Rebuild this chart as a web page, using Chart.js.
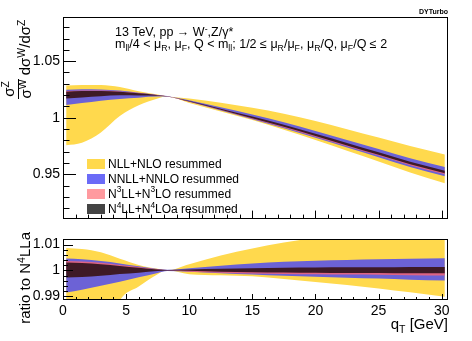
<!DOCTYPE html>
<html>
<head>
<meta charset="utf-8">
<script src="https://cdn.jsdelivr.net/npm/chart.js@4"></script>
<style>
  body { margin: 0; background: #fff; }
  #figura { position: relative; width: 472px; height: 341px; overflow: hidden;
            font-family: "Liberation Sans", Arial, sans-serif; color: #000; }
  #figura canvas { position: absolute; left: 0; }
  .txt { position: absolute; white-space: nowrap; line-height: 1; }
  .sub { font-size: 70%; position: relative; top: 0.35em; }
  .sup { font-size: 70%; position: relative; top: -0.5em; }
  .leg { position: absolute; left: 87px; height: 10px; display: flex; align-items: center;
         font-size: 12px; white-space: nowrap; line-height: 1; }
  .leg .box { width: 18px; height: 10px; margin-right: 3px; flex: none; }
  .rot { transform: rotate(-90deg); }
  .frac { display: flex; flex-direction: column; align-items: center; justify-content: center; font-size: 15px; }
  .frac > span { display: block; line-height: 14px; }
  .frac > span:first-child { border-bottom: 1px solid #000; padding: 0 2px 1px 2px; }
</style>
</head>
<body>
<div id="figura">
  <canvas id="grafico1" width="472" height="230" style="top:0px"></canvas>
  <canvas id="grafico2" width="472" height="113" style="top:228px"></canvas>

  <div class="txt" style="right:24px; top:8px; font-size:7px; font-weight:bold;">DYTurbo</div>

  <div class="txt" style="left:115px; top:26px; font-size:12.5px;">13 TeV, pp &rarr; W<span class="sup">-</span>,Z/&gamma;*</div>
  <div class="txt" style="left:115px; top:38px; font-size:12.5px;">m<span class="sub">ll</span>/4 &lt; &mu;<span class="sub">R</span>, &mu;<span class="sub">F</span>, Q &lt; m<span class="sub">ll</span>; 1/2 &le; &mu;<span class="sub">R</span>/&mu;<span class="sub">F</span>, &mu;<span class="sub">R</span>/Q, &mu;<span class="sub">F</span>/Q &le; 2</div>

  <div class="leg" style="top:159px"><span class="box" style="background:#ffd94d"></span>NLL+NLO resummed</div>
  <div class="leg" style="top:173.5px"><span class="box" style="background:#6b6bf7"></span>NNLL+NNLO resummed</div>
  <div class="leg" style="top:188.5px"><span class="box" style="background:#ff9a9f"></span>N<span class="sup">3</span>LL+N<span class="sup">3</span>LO resummed</div>
  <div class="leg" style="top:204px"><span class="box" style="background:#444444"></span>N<span class="sup">4</span>LL+N<span class="sup">4</span>LOa resummed</div>

  <!-- titulos dos eixos -->
  <div class="txt rot frac" style="left:5px; top:74px; width:26px; height:30px;">
    <span>&sigma;<span class="sup">Z</span></span><span>&sigma;<span class="sup">W</span></span>
  </div>
  <div class="txt rot" style="left:-3px; top:39px; width:56px; height:17px; font-size:15px; text-align:right;">d&sigma;<span class="sup">W</span>/d&sigma;<span class="sup">Z</span></div>
  <div class="txt rot" style="left:-23px; top:272px; width:96px; height:16px; font-size:15px; text-align:right;">ratio to N<span class="sup">4</span>LLa</div>
  <div class="txt" style="right:24px; top:316px; font-size:15px;">q<span class="sub">T</span> [GeV]</div>
</div>

<script>
// pontos em qT (GeV)
const qT = [0.25, 1.5, 3, 4.5, 6, 7.5, 8.25, 10, 12.5, 15, 17.5, 20, 22.5, 25, 27.5, 30.25];

// painel de cima: sigma^Z/sigma^W dsigma^W/dsigma^Z (limites das bandas)
const nllHi  = [1.0285, 1.0290, 1.0290, 1.0272, 1.0235, 1.0205, 1.0190, 1.0170, 1.0133, 1.0088, 1.0035, 0.9972, 0.9900, 0.9826, 0.9751, 0.9677];
const nllLo  = [0.9757, 0.9780, 0.9870, 1.0015, 1.0110, 1.0170, 1.0190, 1.0131, 1.0056, 0.9980, 0.9894, 0.9804, 0.9709, 0.9615, 0.9518, 0.9423];
const nnllHi = [1.0247, 1.0251, 1.0249, 1.0240, 1.0222, 1.0202, 1.0192, 1.0154, 1.0093, 1.0030, 0.9961, 0.9884, 0.9804, 0.9725, 0.9643, 0.9565];
const nnllLo = [1.0112, 1.0130, 1.0151, 1.0167, 1.0178, 1.0187, 1.0187, 1.0141, 1.0064, 0.9987, 0.9907, 0.9823, 0.9737, 0.9652, 0.9565, 0.9483];
const n3llHi = [1.0237, 1.0242, 1.0242, 1.0233, 1.0219, 1.0201, 1.0191, 1.0147, 1.0077, 1.0006, 0.9932, 0.9852, 0.9770, 0.9688, 0.9605, 0.9525];
const n3llLo = [1.0190, 1.0198, 1.0205, 1.0207, 1.0203, 1.0196, 1.0189, 1.0141, 1.0068, 0.9991, 0.9914, 0.9833, 0.9749, 0.9667, 0.9582, 0.9501];
const n4llHi = [1.0231, 1.0236, 1.0237, 1.0229, 1.0216, 1.0200, 1.0191, 1.0149, 1.0081, 1.0011, 0.9938, 0.9859, 0.9777, 0.9695, 0.9612, 0.9532];
const n4llLo = [1.0171, 1.0180, 1.0191, 1.0198, 1.0197, 1.0194, 1.0189, 1.0144, 1.0070, 0.9996, 0.9920, 0.9839, 0.9755, 0.9673, 0.9589, 0.9510];

// painel de baixo: razao para N4LLa
const rNllHi  = [1.0087, 1.0083, 1.0070, 1.0045, 1.0021, 1.0006, 1.0000, 1.0024, 1.0058, 1.0085, 1.0108, 1.0126, 1.0138, 1.0148, 1.0157, 1.0165];
const rNllLo  = [0.9566, 0.9600, 0.9700, 0.9883, 0.9937, 0.9985, 1.0000, 0.9985, 0.9981, 0.9977, 0.9966, 0.9955, 0.9943, 0.9930, 0.9915, 0.9898];
const rNnllHi = [1.0046, 1.0043, 1.0036, 1.0027, 1.0016, 1.0005, 1.0002, 1.0008, 1.0018, 1.0027, 1.0033, 1.0037, 1.0040, 1.0043, 1.0045, 1.0047];
const rNnllLo = [0.9914, 0.9925, 0.9940, 0.9956, 0.9973, 0.9990, 0.9997, 0.9995, 0.9989, 0.9984, 0.9979, 0.9975, 0.9971, 0.9968, 0.9964, 0.9961];
const rN3llHi = [1.0036, 1.0034, 1.0029, 1.0021, 1.0013, 1.0004, 1.0001, 1.0001, 1.0002, 1.0003, 1.0004, 1.0004, 1.0005, 1.0005, 1.0005, 1.0005];
const rN3llLo = [0.9990, 0.9991, 0.9993, 0.9995, 0.9997, 0.9999, 1.0000, 0.9995, 0.9991, 0.9988, 0.9986, 0.9985, 0.9984, 0.9983, 0.9981, 0.9980];
const rN4llHi = [1.0030, 1.0028, 1.0024, 1.0017, 1.0010, 1.0003, 1.0001, 1.0003, 1.0006, 1.0008, 1.0010, 1.0011, 1.0012, 1.0012, 1.0013, 1.0013];
const rN4llLo = [0.9972, 0.9974, 0.9979, 0.9986, 0.9991, 0.9997, 0.9999, 0.9998, 0.9995, 0.9993, 0.9992, 0.9991, 0.9990, 0.9990, 0.9989, 0.9989];

// ticks com rotulo
const xTicks = [0, 5, 10, 15, 20, 25, 30];
const yTicksTopo = [0.95, 1, 1.05];
const yTicksRazao = [0.99, 1, 1.01];

const corNll = '#ffd94d';
const corNnll = '#6c62d6';
const corN3ll = '#de6484';
const corN4ll = '#3e1a26';

// duas curvas (alto/baixo) com preenchimento entre elas
function banda(label, hi, lo, cor) {
    const linha = {
        pointRadius: 0,
        borderWidth: 0,
        cubicInterpolationMode: 'monotone'
    };
    return [
        Object.assign({ label: label, data: qT.map((x, i) => ({ x: x, y: hi[i] })), fill: '+1', backgroundColor: cor, borderColor: cor }, linha),
        Object.assign({ label: label + ' lo', data: qT.map((x, i) => ({ x: x, y: lo[i] })), fill: false, borderColor: cor }, linha)
    ];
}

// moldura estilo ROOT com ticks para dentro
const molduraRoot = {
    id: 'molduraRoot',
    afterDraw(chart, args, o) {
        const ctx = chart.ctx;
        const a = chart.chartArea;
        const sx = chart.scales.x;
        const sy = chart.scales.y;
        ctx.save();
        ctx.strokeStyle = '#000';
        ctx.lineWidth = 1;
        ctx.beginPath();
        for (let i = Math.ceil(sx.min / o.xPasso - 1e-6); i * o.xPasso <= sx.max + 1e-9; i++) {
            const px = Math.round(sx.getPixelForValue(i * o.xPasso)) + 0.5;
            const len = (i % o.xCada === 0) ? o.xLen : o.xLen / 2;
            ctx.moveTo(px, a.bottom);
            ctx.lineTo(px, a.bottom - len);
        }
        for (let i = Math.ceil(sy.min / o.yPasso - 1e-6); i * o.yPasso <= sy.max + 1e-9; i++) {
            const py = Math.round(sy.getPixelForValue(i * o.yPasso)) + 0.5;
            const len = (i % o.yCada === 0) ? o.yLen : o.yLen / 2;
            ctx.moveTo(a.left, py);
            ctx.lineTo(a.left + len, py);
        }
        ctx.stroke();
        ctx.strokeRect(Math.round(a.left) + 0.5, Math.round(a.top) + 0.5, Math.round(a.width) - 1, Math.round(a.height) - 1);
        ctx.restore();
    }
};

const fonteTicks = { family: '"Liberation Sans", Arial, sans-serif', size: 14 };
const semGrade = { display: false, drawTicks: false };

// Grafico de cima
const dados1 = {
    datasets: [].concat(
        banda('N4LL+N4LOa', n4llHi, n4llLo, corN4ll),
        banda('N3LL+N3LO', n3llHi, n3llLo, corN3ll),
        banda('NNLL+NNLO', nnllHi, nnllLo, corNnll),
        banda('NLL+NLO', nllHi, nllLo, corNll)
    )
};

const config1 = {
    type: 'line',
    data: dados1,
    plugins: [molduraRoot],
    options: {
        responsive: false,
        animation: false,
        layout: { padding: { left: 0, right: 24, top: 17, bottom: 0 } },
        plugins: {
            legend: { display: false },
            tooltip: { enabled: false },
            molduraRoot: { xPasso: 1, xCada: 5, xLen: 8, yPasso: 0.01, yCada: 5, yLen: 13 }
        },
        scales: {
            x: {
                type: 'linear', min: 0, max: 30.5,
                grid: semGrade, border: { display: false },
                ticks: { display: false },
                afterFit: s => { s.height = 2; }
            },
            y: {
                min: 0.911, max: 1.089,
                grid: semGrade, border: { display: false },
                ticks: { font: fonteTicks, color: '#000', padding: 3, callback: v => String(v) },
                afterBuildTicks: s => { s.ticks = yTicksTopo.map(v => ({ value: v })); },
                afterFit: s => { s.width = 63; }
            }
        }
    }
};

const grafico1 = new Chart(document.getElementById('grafico1'), config1);

// Grafico de baixo (razao)
const dados2 = {
    datasets: [].concat(
        banda('N4LL+N4LOa', rN4llHi, rN4llLo, corN4ll),
        banda('N3LL+N3LO', rN3llHi, rN3llLo, corN3ll),
        banda('NNLL+NNLO', rNnllHi, rNnllLo, corNnll),
        banda('NLL+NLO', rNllHi, rNllLo, corNll)
    )
};

const config2 = {
    type: 'line',
    data: dados2,
    plugins: [molduraRoot],
    options: {
        responsive: false,
        animation: false,
        layout: { padding: { left: 0, right: 24, top: 4, bottom: 0 } },
        plugins: {
            legend: { display: false },
            tooltip: { enabled: false },
            molduraRoot: { xPasso: 1, xCada: 5, xLen: 6, yPasso: 0.002, yCada: 5, yLen: 10 }
        },
        scales: {
            x: {
                type: 'linear', min: 0, max: 30.5,
                grid: semGrade, border: { display: false },
                ticks: { font: fonteTicks, color: '#000', padding: 3, maxRotation: 0, autoSkip: false, callback: v => String(v) },
                afterBuildTicks: s => { s.ticks = xTicks.map(v => ({ value: v })); },
                afterFit: s => { s.height = 41; }
            },
            y: {
                min: 0.9885, max: 1.012,
                grid: semGrade, border: { display: false },
                ticks: { font: fonteTicks, color: '#000', padding: 3, callback: v => String(v) },
                afterBuildTicks: s => { s.ticks = yTicksRazao.map(v => ({ value: v })); },
                afterFit: s => { s.width = 63; }
            }
        }
    }
};

const grafico2 = new Chart(document.getElementById('grafico2'), config2);
</script>
</body>
</html>
